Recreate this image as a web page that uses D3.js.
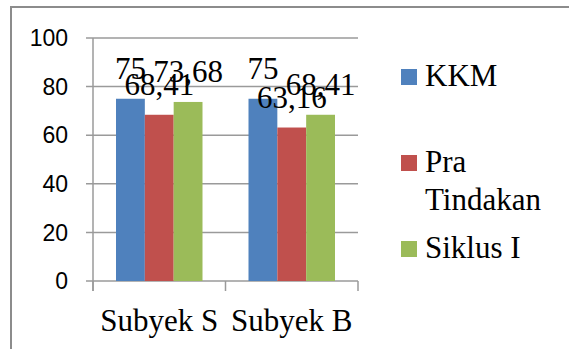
<!DOCTYPE html>
<html>
<head>
<meta charset="utf-8">
<script src="https://cdn.jsdelivr.net/npm/d3@7"></script>
<style>
  html, body { margin: 0; padding: 0; background: #fff; }
  svg { display: block; }
</style>
</head>
<body>
<script>
// Chart data
const categories = ["Subyek S", "Subyek B"];
const seriesNames = ["KKM", "Pra Tindakan", "Siklus I"];
const seriesLegendLines = [["KKM"], ["Pra", "Tindakan"], ["Siklus I"]];
const kkm = [75, 75];
const praTindakan = [68.41, 63.16];
const siklusI = [73.68, 68.41];
const yTicks = [0, 20, 40, 60, 80, 100];
const colors = ["#4F81BD", "#C0504D", "#9BBB59"];

const seriesValues = [kkm, praTindakan, siklusI];

const SERIF = "Liberation Serif";
const SANS = "Liberation Sans";

const W = 569, H = 349;
const svg = d3.select("body").append("svg").attr("width", W).attr("height", H);

// Outer chart frame (extends past the page edges)
svg.append("rect")
  .attr("x", 11).attr("y", 7).attr("width", 700).attr("height", 500)
  .attr("fill", "none").attr("stroke", "#8c8c8c").attr("stroke-width", 2);

const plot = { left: 93, right: 358, top: 38, bottom: 281 };

const y = d3.scaleLinear().domain([0, 100]).range([plot.bottom, plot.top]);
const x0 = d3.scaleBand().domain(categories).range([plot.left, plot.right]).paddingInner(0).paddingOuter(0);
const x1 = d3.scaleBand().domain(seriesNames).range([23, x0.bandwidth() - 23]).padding(0);

const grid = "#9a9a9a";

// Horizontal gridlines with left tick stubs
svg.append("g").selectAll("line").data(yTicks).join("line")
  .attr("x1", plot.left - 7).attr("x2", plot.right)
  .attr("y1", d => y(d)).attr("y2", d => y(d))
  .attr("stroke", grid).attr("stroke-width", 1.5);

// Y axis line
svg.append("line")
  .attr("x1", plot.left).attr("x2", plot.left)
  .attr("y1", plot.top).attr("y2", plot.bottom + 10)
  .attr("stroke", grid).attr("stroke-width", 1.5);

// Category boundary ticks on the x axis
const xTickPos = categories.map(c => x0(c)).concat([x0(categories[categories.length - 1]) + x0.bandwidth()]);
svg.append("g").selectAll("line").data(xTickPos).join("line")
  .attr("x1", d => d).attr("x2", d => d)
  .attr("y1", plot.bottom).attr("y2", plot.bottom + 10)
  .attr("stroke", grid).attr("stroke-width", 1.5);

// Y tick labels
svg.append("g").selectAll("text").data(yTicks).join("text")
  .style("font-family", SANS)
  .style("font-size", "23px")
  .attr("x", 68).attr("y", d => y(d))
  .attr("dy", "0.36em")
  .attr("text-anchor", "end")
  .attr("fill", "#000")
  .text(d => d);

// Bars
const fmt = v => String(v).replace(".", ",");
categories.forEach((cat, ci) => {
  const g = svg.append("g").attr("transform", `translate(${x0(cat)},0)`);
  seriesNames.forEach((s, si) => {
    const v = seriesValues[si][ci];
    g.append("rect")
      .attr("x", x1(s)).attr("width", x1.bandwidth())
      .attr("y", y(v)).attr("height", y(0) - y(v))
      .attr("fill", colors[si]);
  });
});

// Value labels
categories.forEach((cat, ci) => {
  seriesNames.forEach((s, si) => {
    const v = seriesValues[si][ci];
    svg.append("text")
      .style("font-family", SERIF)
      .style("font-size", "31px")
      .attr("x", x0(cat) + x1(s) + x1.bandwidth() / 2)
      .attr("y", y(v) - 20)
      .attr("text-anchor", "middle")
      .attr("fill", "#000")
      .text(fmt(v));
  });
});

// Category labels
svg.append("g").selectAll("text").data(categories).join("text")
  .style("font-family", SERIF)
  .style("font-size", "31px")
  .attr("x", d => x0(d) + x0.bandwidth() / 2)
  .attr("y", 331)
  .attr("text-anchor", "middle")
  .attr("fill", "#000")
  .text(d => d);

// Legend
const legendTop = [69, 155, 241];
const legend = svg.append("g");
seriesNames.forEach((s, si) => {
  legend.append("rect")
    .attr("x", 401).attr("y", legendTop[si])
    .attr("width", 16).attr("height", 16)
    .attr("fill", colors[si]);
  const t = legend.append("text")
    .style("font-family", SERIF)
    .style("font-size", "31px")
    .attr("x", 425).attr("y", legendTop[si] + 17)
    .attr("fill", "#000");
  seriesLegendLines[si].forEach((line, li) => {
    t.append("tspan").attr("x", 425).attr("dy", li === 0 ? 0 : 38).text(line);
  });
});
</script>
</body>
</html>
